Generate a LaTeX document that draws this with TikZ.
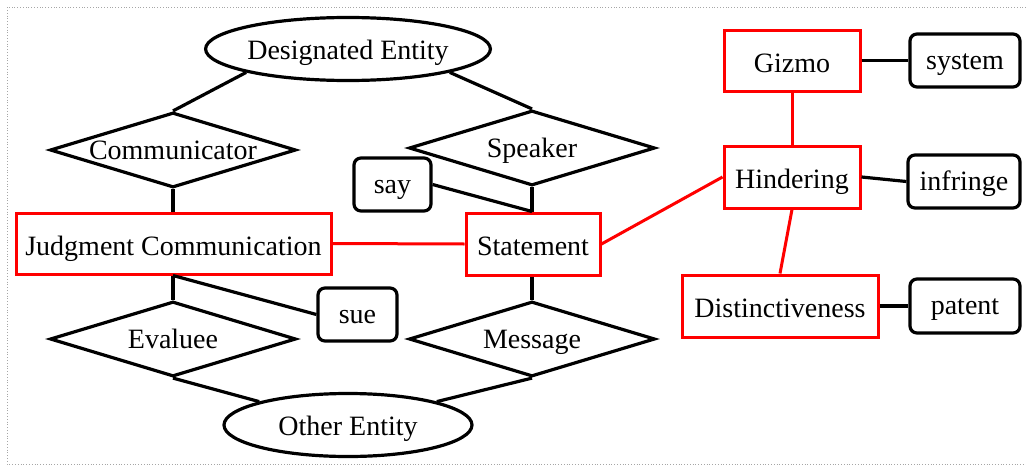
\documentclass[tikz,border=0pt]{standalone}
\usepackage{fontspec}
\setmainfont{Liberation Serif}
\usetikzlibrary{shapes.geometric}
\begin{document}
\begin{tikzpicture}[x=1pt,y=-1pt,
  every node/.style={font=\fontsize{28}{32}\selectfont, inner sep=0pt},
  conn/.style={line width=3.2pt, black},
  rconn/.style={line width=3pt, red},
  ent/.style={ellipse, draw, line width=3.2pt, minimum width=248pt, minimum height=63pt, text height=23.8pt, text depth=3.4pt},
  rel/.style={diamond, draw, line width=3.2pt, aspect=3.28, minimum width=246pt, minimum height=75pt, text height=20pt, text depth=1pt},
  rbox/.style={rectangle, draw=red, line width=3pt, text height=25.8pt, text depth=2.8pt},
  word/.style={rectangle, draw, rounded corners=7pt, line width=3.2pt, text height=21pt, text depth=3.9pt}
]
\useasboundingbox (0,0) rectangle (1026,466);
\draw[gray!70, dotted, line width=0.8pt] (1040,7) -- (7,7) -- (7,464) -- (1040,464);

\node[ent] (de) at (348,49) {Designated Entity};
\node[ent] (oe) at (348,425) {Other Entity};
\node[rel] (comm) at (173,150) {Communicator};
\node[rel] (spk) at (532,148) {Speaker};
\node[rel] (eva) at (173,339) {Evaluee};
\node[rel] (msg) at (532,339) {Message};
\node[rbox, minimum width=315pt, minimum height=61pt] (jc) at (173.5,243.5) {Judgment Communication};
\node[rbox, minimum width=134pt, minimum height=62pt] (stmt) at (533,244) {Statement};
\node[rbox, minimum width=136pt, minimum height=61pt] (giz) at (792,60.5) {Gizmo};
\node[rbox, minimum width=136pt, minimum height=62pt] (hind) at (792,177) {Hindering};
\node[rbox, minimum width=196pt, minimum height=62pt] (dist) at (780,306) {Distinctiveness};
\node[word, minimum width=77pt, minimum height=53pt] (say) at (392.5,184.5) {say};
\node[word, minimum width=79pt, minimum height=53pt] (sue) at (357.5,314.5) {sue};
\node[word, minimum width=110pt, minimum height=53pt] (sys) at (965,60.5) {system};
\node[word, minimum width=112pt, minimum height=53pt] (inf) at (964,181.5) {infringe};
\node[word, minimum width=110pt, minimum height=54pt] (pat) at (965,306) {patent};

\draw[conn] (de.south west) -- (comm.north);
\draw[conn] (de.south east) -- (spk.north);
\draw[conn] (comm.south) -- (jc.north -| comm.south);
\draw[conn] (spk.south) -- (stmt.north -| spk.south);
\draw[conn] (say.east) -- (stmt.north -| spk.south);
\draw[conn] (jc.south -| eva.north) -- (eva.north);
\draw[conn] (jc.south -| eva.north) -- (sue.west);
\draw[conn] (stmt.south -| msg.north) -- (msg.north);
\draw[conn] (eva.south) -- (oe.north west);
\draw[conn] (msg.south) -- (oe.north east);
\draw[rconn] (jc.east) -- (stmt.west);
\draw[rconn] (stmt.east) -- (hind.west);
\draw[rconn] (giz.south) -- (hind.north);
\draw[rconn] (hind.south) -- (dist.north);
\draw[conn] (giz.east) -- (sys.west);
\draw[conn] (hind.east) -- (inf.west);
\draw[conn] (dist.east) -- (pat.west);
\end{tikzpicture}
\end{document}
